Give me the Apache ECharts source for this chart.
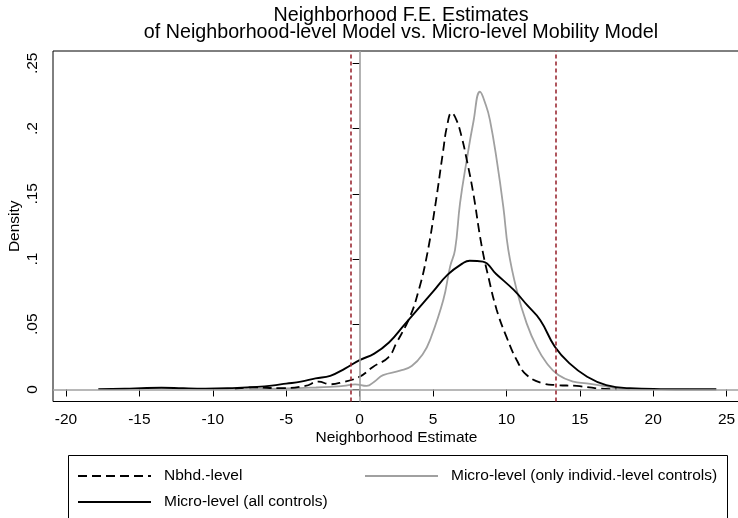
<!DOCTYPE html>
<html>
<head>
<meta charset="utf-8">
<title>Neighborhood F.E. Estimates</title>
<script src="https://cdn.jsdelivr.net/npm/echarts@6/dist/echarts.min.js"></script>
<style>
  html, body { margin: 0; padding: 0; background: #fff; }
  #chart { width: 738px; height: 518px; }
</style>
</head>
<body>
<div id="chart"></div>
<script>
// Kernel density estimates of neighborhood fixed effects, three model variants
const nbhdX = [-8.5, -7.2, -5.4, -3.7, -2.8, -2.0, -1.3, 0, 0.93, 1.96, 2.5, 3.43, 4.0, 4.57, 5.14, 5.7, 5.95, 6.27, 6.6, 6.95, 7.3, 7.75, 8.3, 8.77, 9.34, 10.0, 10.7, 11.38, 12.5, 13.4, 14.8, 16.15, 17.5];
const nbhdY = [0.0003, 0.0017, 0.001, 0.0027, 0.006, 0.004, 0.0052, 0.0098, 0.0175, 0.0247, 0.0354, 0.0558, 0.075, 0.1018, 0.140, 0.1836, 0.2015, 0.2121, 0.2065, 0.1937, 0.176, 0.150, 0.111, 0.0864, 0.061, 0.0405, 0.0226, 0.0111, 0.0047, 0.0034, 0.0027, 0.0009, 0.0002];

const microIndX = [-7.5, -5, -3, -2, -1.1, -0.3, 0.48, 1.0, 1.6, 2.75, 3.55, 4.34, 4.8, 5.7, 6.16, 6.5, 6.84, 7.3, 7.75, 8.2, 8.6, 8.88, 9.34, 9.79, 10.13, 10.7, 11.38, 12.06, 12.75, 13.54, 14.56, 15.47, 16.6, 17.5, 18.4];
const microIndY = [0.0003, 0.0008, 0.0015, 0.002, 0.0027, 0.004, 0.0027, 0.006, 0.011, 0.0144, 0.018, 0.0277, 0.038, 0.0686, 0.094, 0.107, 0.1427, 0.176, 0.205, 0.2282, 0.218, 0.2065, 0.176, 0.140, 0.107, 0.0763, 0.0507, 0.0328, 0.0201, 0.0111, 0.006, 0.0047, 0.0027, 0.0009, 0.0002];

const microAllX = [-17.8, -16, -14.5, -13.5, -12, -10.5, -9, -8, -7, -6, -5, -4, -3, -2, -1, 0, 1, 2, 3, 4, 5, 6, 7, 7.5, 8.4, 9.3, 10.5, 11.4, 12.3, 13.3, 14.3, 15.5, 16.8, 18.4, 20.5, 22.5, 24.3];
const microAllY = [0.0003, 0.0006, 0.0012, 0.0013, 0.0009, 0.0007, 0.0009, 0.0014, 0.002, 0.003, 0.0045, 0.006, 0.0085, 0.0105, 0.016, 0.0225, 0.0275, 0.036, 0.049, 0.062, 0.075, 0.088, 0.0965, 0.0987, 0.098, 0.0885, 0.0763, 0.0648, 0.0533, 0.0328, 0.020, 0.0098, 0.0034, 0.0009, 0.0003, 0.0002, 0.0002];

// Reference cut-offs drawn as dashed vertical lines
const cutoffs = [-0.6, 13.35];

const xTicks = [-20, -15, -10, -5, 0, 5, 10, 15, 20, 25];
const yTicks = [0, 0.05, 0.1, 0.15, 0.2, 0.25];
const yTickLabels = ['0', '.05', '.1', '.15', '.2', '.25'];

const seriesNames = ['Nbhd.-level', 'Micro-level (only individ.-level controls)', 'Micro-level (all controls)'];

const pairs = (xs, ys) => xs.map((x, i) => [x, ys[i]]);

const FONT = 'Liberation Sans, Arial, sans-serif';
const GRAY = '#a0a0a0';
const RED = '#9b2b35';

const chart = echarts.init(document.getElementById('chart'), null, { renderer: 'canvas' });

const legendCommon = {
  orient: 'horizontal',
  padding: 0,
  itemWidth: 73,
  itemHeight: 14,
  selectedMode: false,
  itemStyle: { opacity: 0, borderWidth: 0 },
  textStyle: { fontFamily: FONT, fontSize: 15.5, color: '#000', padding: [0, 0, 0, 8] }
};

const curveStyle = { showSymbol: false, symbol: 'none', smooth: 0.45 };

chart.setOption({
  animation: false,
  backgroundColor: '#fff',
  title: {
    text: 'Neighborhood F.E. Estimates\nof Neighborhood-level Model vs. Micro-level Mobility Model',
    left: 396,
    top: 2,
    textAlign: 'center',
    textStyle: { fontFamily: FONT, fontSize: 19.7, fontWeight: 'normal', color: '#000', lineHeight: 17 }
  },
  grid: {
    left: 53, top: 51, width: 687, height: 350.5,
    outerBoundsMode: 'none',
    show: true, borderColor: '#000', borderWidth: 1, backgroundColor: '#fff'
  },
  legend: [
    Object.assign({ data: [seriesNames[0]], left: 77, top: 468 }, legendCommon),
    Object.assign({ data: [seriesNames[1]], left: 364, top: 468 }, legendCommon),
    Object.assign({ data: [seriesNames[2]], left: 77, top: 494 }, legendCommon)
  ],
  xAxis: {
    type: 'value',
    min: -20.886, max: 25.913,
    name: 'Neighborhood Estimate',
    nameLocation: 'middle',
    nameGap: 28,
    nameMoveOverlap: false,
    nameTextStyle: { fontFamily: FONT, fontSize: 15.5, color: '#000' },
    axisLine: { show: false },
    axisTick: { show: true, length: 7, customValues: xTicks, lineStyle: { color: '#000', width: 1 } },
    axisLabel: { customValues: xTicks, margin: 10, fontFamily: FONT, fontSize: 15.5, color: '#000', formatter: v => String(v) },
    splitLine: { show: false }
  },
  yAxis: {
    type: 'value',
    min: -0.0092, max: 0.25943,
    name: 'Density',
    nameLocation: 'middle',
    nameGap: 30,
    nameMoveOverlap: false,
    nameTextStyle: { fontFamily: FONT, fontSize: 15.5, color: '#000' },
    axisLine: { show: false },
    axisTick: { show: true, length: 7, customValues: yTicks, lineStyle: { color: '#000', width: 1 } },
    axisLabel: {
      customValues: yTicks, rotate: 90, margin: 12,
      fontFamily: FONT, fontSize: 15.5, color: '#000',
      formatter: v => {
        const i = yTicks.findIndex(t => Math.abs(t - v) < 1e-9);
        return i >= 0 ? yTickLabels[i] : '';
      }
    },
    splitLine: { show: false }
  },
  series: [
    {
      name: 'refs',
      type: 'line',
      data: [],
      silent: true,
      z: 1,
      markLine: {
        silent: true,
        symbol: ['none', 'none'],
        label: { show: false },
        animation: false,
        data: [
          { xAxis: 0, lineStyle: { color: GRAY, width: 1.6, type: 'solid' } },
          { yAxis: 0, lineStyle: { color: GRAY, width: 1.6, type: 'solid' } },
          { xAxis: cutoffs[0], lineStyle: { color: RED, width: 1.6, type: [4, 3] } },
          { xAxis: cutoffs[1], lineStyle: { color: RED, width: 1.6, type: [4, 3] } }
        ]
      }
    },
    Object.assign({
      name: seriesNames[1],
      type: 'line',
      data: pairs(microIndX, microIndY),
      z: 2,
      itemStyle: { color: GRAY },
      lineStyle: { color: GRAY, width: 1.8 }
    }, curveStyle),
    Object.assign({
      name: seriesNames[0],
      type: 'line',
      data: pairs(nbhdX, nbhdY),
      z: 3,
      itemStyle: { color: '#000' },
      lineStyle: { color: '#000', width: 1.8, type: [9, 5] }
    }, curveStyle),
    Object.assign({
      name: seriesNames[2],
      type: 'line',
      data: pairs(microAllX, microAllY),
      z: 4,
      itemStyle: { color: '#000' },
      lineStyle: { color: '#000', width: 1.9 }
    }, curveStyle)
  ],
  graphic: [
    {
      type: 'rect',
      shape: { x: 68.5, y: 455.5, width: 659, height: 70 },
      style: { fill: 'none', stroke: '#000', lineWidth: 1 },
      silent: true,
      z: -1
    }
  ]
});
</script>
</body>
</html>
